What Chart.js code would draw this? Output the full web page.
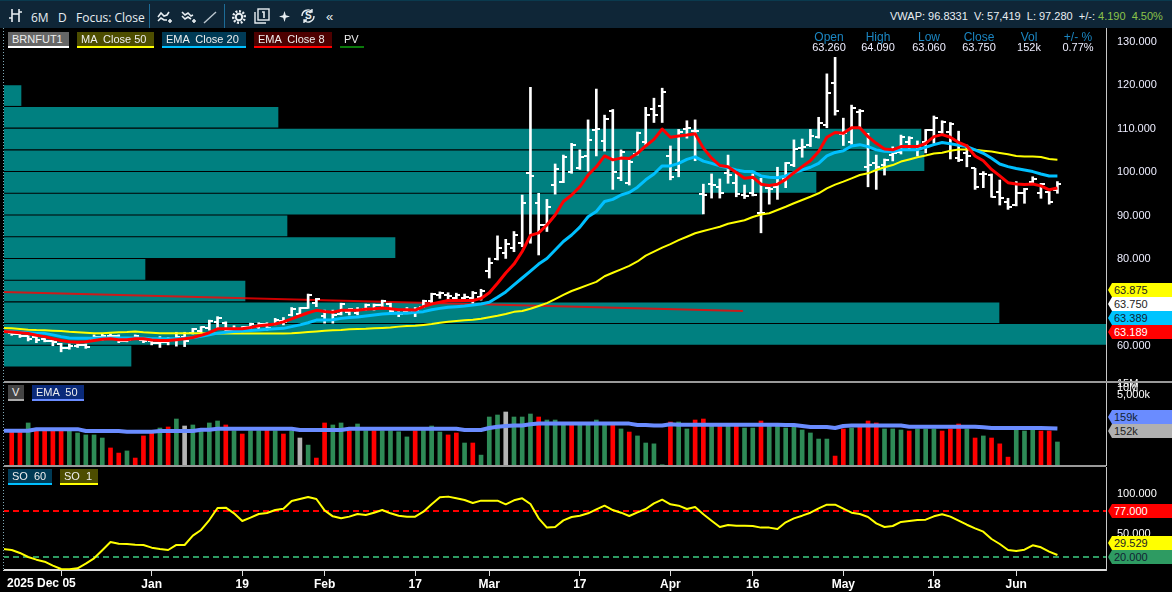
<!DOCTYPE html>
<html>
<head>
<meta charset="utf-8">
<title>BRNFUT1</title>
<script src="https://cdn.jsdelivr.net/npm/chart.js@4"></script>
<style>
html, body { margin: 0; background: #000; overflow: hidden; }
#page { position: relative; width: 1172px; height: 592px; background: #000; overflow: hidden; font-family: "Liberation Sans", Arial, sans-serif; color: #eef; }
canvas { position: absolute; display: block; }
#bar { position: absolute; left: 0; top: 0; width: 1172px; height: 28px; background: #0f2637; border-top: 1px solid #0a3a4e; box-sizing: border-box; font-size: 11px; color: #e8eef2; }
#bar span, #bar svg { position: absolute; }
.left { font-family: "Open Sans", sans-serif; font-size: 12px; top: 8px; }
.sep { position: absolute; top: 3px; width: 1px; height: 24px; background: #1d6c97; }
.tag { position: absolute; height: 14px; line-height: 15px; font-size: 11px; padding-left: 4px; color: #eee; white-space: pre; }
.stat { position: absolute; width: 60px; text-align: center; font-size: 11px; line-height: 10px; }
.stat i { font-style: normal; font-size: 12px; color: #1b86c2; display: block; }
.price { position: absolute; left: 1108px; width: 64px; height: 14px; line-height: 14px; font-size: 11px; padding-left: 6px; box-sizing: border-box; clip-path: polygon(4px 0, 100% 0, 100% 100%, 4px 100%, 0 50%); }
.rule { position: absolute; background: #9a9a9a; }
</style>
</head>
<body>
<div id="page">
  <canvas id="priceChart" width="1169" height="353" style="left:3px;top:28px"></canvas>
  <canvas id="volumeChart" width="1169" height="94" style="left:3px;top:372px"></canvas>
  <canvas id="soChart" width="1169" height="125" style="left:3px;top:467px"></canvas>

  <div class="rule" style="left:3px;top:381px;width:1169px;height:2px"></div>
  <div class="rule" style="left:3px;top:465px;width:1103px;height:2px"></div>
  <div style="position:absolute;left:3px;top:28px;width:1px;height:542px;background:repeating-linear-gradient(#7fa9b5 0 1px,#000 1px 3px)"></div>

  <div id="bar">
    <svg style="left:8px;top:7px" width="15" height="15" viewBox="0 0 15 15" fill="none" stroke="#e8eef2" stroke-width="1.6"><path d="M4 1v13M1 10h3M11 1v13M11 4h3M4 6h7"/></svg>
    <span class="left" style="left:31px">6M</span>
    <span class="left" style="left:58px">D</span>
    <span class="left" style="left:76px">Focus: Close</span>
    <div class="sep" style="left:149px"></div>
    <svg style="left:157px;top:9px" width="16" height="14" viewBox="0 0 16 14" fill="none" stroke="#e8eef2" stroke-width="1.6"><path d="M1 7l3-4 3 3 3-1 2-3M1 11l3-3 3 2 3 0M11 11h4M13 9v4"/></svg>
    <svg style="left:181px;top:9px" width="16" height="14" viewBox="0 0 16 14" fill="none" stroke="#e8eef2" stroke-width="1.6"><path d="M1 2l3 3 3-2 3 3 2-1M1 6l3 3 3-2 3 2M11 11h4M13 9v4"/></svg>
    <svg style="left:203px;top:9px" width="14" height="14" viewBox="0 0 14 14" fill="none" stroke="#bcc8d0" stroke-width="1.4"><path d="M1 13L13 2"/></svg>
    <div class="sep" style="left:224px"></div>
    <svg style="left:232px;top:9px" width="14" height="14" viewBox="0 0 14 14" fill="none" stroke="#e8eef2" stroke-width="2"><circle cx="7" cy="7" r="3.2"/><path stroke-dasharray="2 1.6" stroke-width="2.4" d="M7 1.2a5.8 5.8 0 1 1-.01 0"/></svg>
    <svg style="left:254px;top:7px" width="16" height="16" viewBox="0 0 16 16" fill="none" stroke="#e8eef2" stroke-width="1.4"><rect x="4" y="1" width="11" height="11"/><path d="M1 4v11h11"/><path d="M8 4h2v6" stroke-width="1.6"/></svg>
    <svg style="left:279px;top:10px" width="11" height="11" viewBox="0 0 11 11" fill="#e8eef2"><path d="M5.5 0l1.3 4.2L11 5.5 6.8 6.8 5.5 11 4.2 6.8 0 5.5l4.2-1.3z"/></svg>
    <svg style="left:300px;top:7px" width="16" height="16" viewBox="0 0 16 16" fill="none" stroke="#e8eef2" stroke-width="1.4"><path d="M2 8a6 6 0 0 1 10-4.5M14 8a6 6 0 0 1-10 4.5M12 1v3h-3M4 15v-3h3"/></svg>
    <span style="left:305px;top:9px;font-size:10px;font-weight:bold">S</span>
    <span style="left:326px;top:8px;font-size:13px">«</span>
    <span style="left:890px;top:9px;font-size:11px;white-space:pre">VWAP: 96.8331  V: 57,419  L: 97.280  +/-: <b style="font-weight:normal;color:#8bc34a">4.190  4.50%</b></span>
  </div>

  <div class="tag" style="left:8px;top:32px;width:57px;background:#666;border-bottom:2px solid #fff">BRNFUT1</div>
  <div class="tag" style="left:77px;top:32px;width:73px;background:#4d4d00;border-bottom:2px solid #ff0">MA  Close 50</div>
  <div class="tag" style="left:162px;top:32px;width:80px;background:#003a55;border-bottom:2px solid #00bfff">EMA  Close 20</div>
  <div class="tag" style="left:254px;top:32px;width:74px;background:#4d0000;border-bottom:2px solid #f00">EMA  Close 8</div>
  <div class="tag" style="left:340px;top:32px;width:20px;border-bottom:2px solid #0a7a0a">PV</div>

  <div class="stat" style="left:799px;top:32px"><i>Open</i>63.260</div>
  <div class="stat" style="left:848px;top:32px"><i>High</i>64.090</div>
  <div class="stat" style="left:899px;top:32px"><i>Low</i>63.060</div>
  <div class="stat" style="left:949px;top:32px"><i>Close</i>63.750</div>
  <div class="stat" style="left:999px;top:32px"><i>Vol</i>152k</div>
  <div class="stat" style="left:1048px;top:32px"><i>+/- %</i>0.77%</div>

  <div class="tag" style="left:8px;top:385px;width:12px;background:#444;border-bottom:2px solid #aaa">V</div>
  <div class="tag" style="left:32px;top:385px;width:48px;background:#0a2a7a;border-bottom:2px solid #6a8cff">EMA  50</div>
  <div class="tag" style="left:8px;top:469px;width:40px;background:#003a55;border-bottom:2px solid #00bfff">SO  60</div>
  <div class="tag" style="left:60px;top:469px;width:34px;background:#4d4d00;border-bottom:2px solid #ff0">SO  1</div>

  <div class="price" style="top:283px;background:#ff0;color:#222">63.875</div>
  <div class="price" style="top:297px;background:#fff;color:#222">63.750</div>
  <div class="price" style="top:311px;background:#00c4ff;color:#123">63.389</div>
  <div class="price" style="top:325px;background:#f00;color:#fff">63.189</div>
  <div class="price" style="top:410px;background:#6a8cff;color:#123">159k</div>
  <div class="price" style="top:424px;background:#b0b0b0;color:#222">152k</div>
  <div class="price" style="top:504px;background:#f00;color:#fff">77.000</div>
  <div class="price" style="top:536px;background:#ff0;color:#222">29.529</div>
  <div class="price" style="top:550px;background:#2e9b62;color:#123">20.000</div>

  <div id="firstDate" style="position:absolute;left:7px;top:576px;font-size:12px;font-weight:bold;color:#fff"></div>
</div>

<script>
const opens = [62.5,62.2,61.8,61.5,61.1,60.8,60.1,59,59.5,59.7,
  60.9,61.5,61.8,61.8,60.7,61.3,61,60.6,60.2,60.4,
  60.9,61.5,62.5,63,63.7,65,64.8,63.3,63.2,63.8,
  64,64.6,64.6,65.4,66.6,67,68.4,69.5,66.5,65.5,
  67,67.4,67.2,68,68.1,69,69.2,67.2,67.5,67.3,
  68.6,69.9,71.3,71.2,70.5,70.6,70.5,70.8,76.8,79.6,
  81,82,83.2,99.3,92.4,87.4,96.6,97.4,99.7,100.6,
  103.3,109.3,106.8,113.7,98.15,97,103.75,106.4,114,114.9,
  103.3,100.07,109.4,109.1,94.5,96.8,96.2,99.3,97,94.3,
  94.7,90.1,95.85,96.2,98,101.2,
  105.06,105.8,107.6,110.4,120,108.4,106.6,113.5,100.84,101.6,
  101.2,103.5,104.3,106.6,105.45,106.4,109.3,108.9,108.9,102.75,
  104.05,100.45,99.07,98.9,95.1,92.8,92,94.7,97.4,94.85,95.1,95.5];
const highs = [62.6,62.3,61.9,61.7,61.3,61.3,60.15,60,60,60,
  62.1,62.3,62.3,62.1,61.3,62.1,61.3,61.1,61.7,61.5,
  62.7,62.7,63.6,64,65.5,66.3,65.1,64.2,64,64.8,
  64.9,64.9,65.9,66.1,68.4,68.4,71.5,70.5,67.8,67.8,
  69.4,68.2,68.4,69.2,69.2,70.1,69.4,67.45,68.4,68.4,
  70.1,71.7,72,71.8,71.7,71.5,72.1,72.6,79.8,84.9,
  84.1,85.9,94.3,119.1,94.7,93.3,101.45,103.5,106.2,104.7,
  111.6,118.7,112.7,114,104.7,102.4,108.8,114.5,116.6,118.9,
  105.6,109.4,111.4,111.6,96.8,99.15,98,103.5,99.3,96.6,
  99.15,98.15,96.2,100.7,101.8,107,
  107.2,109.4,112.2,122.2,126,112,115,114,108.5,103.5,
  102.6,105.4,108.1,107.75,106.75,109.4,112.5,111.4,111,109,
  105.8,100.45,99.7,99.15,97.75,93.55,97.4,95.85,98.5,97,95.1,97.4];
const lows = [62,61.5,60.7,60.3,60.5,59.6,58.2,58.8,59.2,59,
  60.8,60.9,61.3,60.3,60.5,61.1,60.3,59.8,59.2,59.8,
  59.5,59.4,62.3,62.5,63.2,63.4,62.8,62.8,62.8,63.4,
  63.4,63.2,64.4,64.4,66.45,66.45,68.2,68.6,64.8,64.8,
  66.7,66.7,66.7,67.8,67.8,68.6,67.1,66.3,67.1,66.3,
  68.4,69.5,70.5,70.1,70.1,70.1,69.4,70.1,75.2,79.35,
  79.7,81.25,82.4,83.2,80.5,85.9,94.5,97.15,99.3,100.2,
  99.8,103.3,104.4,95.6,97.6,96.6,103.5,105.8,111,111,
  97.8,98.5,107.4,102.2,89.95,93.6,93.6,97,93.9,93.5,
  94.1,85.6,92.2,93.3,96,100.84,
  103,105.45,107.4,109.8,112.7,105.7,106,109.7,96.2,95.6,
  98.9,102.15,103.75,104.7,103.3,104,106.2,108.5,102.6,102,
  100.8,95.6,96,93.8,92,91,91.8,92.4,96.85,93.55,92.2,94.7];
const closes = [62.2,61.8,61.2,60.9,60.7,60.4,59,59.6,59.7,59.2,
  61.6,61.9,61.9,60.6,60.9,61.9,60.6,60.2,60.5,61.1,
  61.7,60.7,63.4,63.8,65.2,66,63.2,63,63.8,64.6,
  64.7,63.6,65.6,65,68.1,68.2,71.2,70.3,65.5,66.6,
  69.1,68,67.9,68.9,68.9,69.8,67.5,66.9,67.9,67.9,
  69.9,71.5,71.7,71,71.2,70.8,71.7,72.3,78.7,82,
  83,85.2,92.5,98.7,87.4,91.6,100.2,103,105.8,103,
  107,109.4,111.7,99.7,104.3,102,108.5,112.7,112.7,118.1,
  98.5,108.7,109.7,109,94.4,96.6,94.85,98.9,94.5,94.1,
  94.4,90.25,95.6,98.5,101.75,104.8,
  105.45,107.9,111,117.9,113.65,108.5,114.3,113.7,101.2,100.84,
  102.4,103.9,107.75,107.4,105.45,109.3,112,111.2,110.7,102.4,
  103.3,96.1,99.07,93.9,93.55,91.6,94.7,95.6,98,96.8,92.6,96.85];

const ema8 = [62.77,62.6,62.4,62,61.7,61.2,60.8,60.5,60.4,60.5,
  60.8,61.1,61.2,61,61,61.2,61.2,60.9,60.8,60.8,
  61,61.2,61.5,62,62.6,63.5,63.5,63.5,63.5,63.8,
  64.2,64.4,64.6,65.1,65.8,66.5,67.2,67.75,67.5,67.3,
  67.75,67.75,67.75,68,68.1,68.3,68.1,67.9,67.9,67.8,
  68.6,69.2,69.6,70,70,70,70,70.5,71.8,74,
  76.35,78.4,81.3,85,85.6,87.4,89.7,92.8,94.3,96.2,
  98.9,100.8,103.3,102.4,102.8,102.7,103.9,105.6,107.1,109.5,
  107.6,107.9,108.1,108.4,105.1,102.8,101.1,100.8,99.5,98.15,
  98.4,96.8,96.5,96.8,97.9,99.45,
  100.84,102.2,104.3,107.6,108.7,108.5,109.8,109.8,107.75,106.2,
  104.9,104.7,105.45,105.45,105.45,106.2,107.75,108.2,107.6,106.4,
  105.6,103.3,102.2,100.2,98.7,97.15,96.85,96.7,96.85,96.4,95.5,95.9];
const ema20 = [62.8,62.7,62.6,62.5,62.45,62.1,61.7,61.4,61.3,61.3,
  61.3,61.4,61.4,61.4,61.4,61.4,61.3,61.2,61.2,61.2,
  61.2,61.3,61.5,61.8,62.1,62.5,62.7,62.85,63,63.1,
  63.2,63.4,63.5,63.6,64,64.4,64.9,65.5,65.5,65.6,
  65.9,66.1,66.2,66.45,66.7,66.9,67,67.1,67.1,67.3,
  67.45,67.9,68.2,68.45,68.6,68.75,69,69.2,69.6,70.75,
  72,73.6,75.2,76.8,78.4,79.7,81.65,83.6,85.1,86.9,
  89.3,90.5,92.8,93.3,94.3,94.9,96.1,97.8,99.15,101,
  101,101.6,102.5,103.1,102.1,101.6,101,100.6,100.1,99.7,
  99.7,98.7,98.4,98.3,98.7,99.45,
  100.07,100.7,101.6,103.3,104.1,104.5,105.6,105.9,105.45,104.7,
  104.4,104.3,104.75,104.75,104.75,105.3,105.9,106.4,106.1,105.75,
  105.45,104.7,103.9,102.75,101.45,100.84,100.4,100.07,99.7,99.15,98.7,98.7];
const ma50 = [63.6,63.45,63.3,63.2,63.15,63.07,63,62.8,62.7,62.6,
  62.5,62.5,62.6,62.7,62.75,62.85,62.7,62.6,62.5,62.45,
  62.45,62.45,62.45,62.45,62.4,62.4,62.4,62.4,62.4,62.4,
  62.4,62.4,62.4,62.4,62.45,62.6,62.75,62.9,63.07,63.15,
  63.2,63.4,63.45,63.5,63.6,63.7,63.8,64,64.15,64.2,
  64.4,64.6,64.9,65.1,65.3,65.45,65.6,65.8,66.15,66.5,
  66.9,67.4,67.6,68.1,68.75,69.4,70.35,71.3,72.2,72.9,
  73.6,74.3,75.6,76.4,77.2,78,79,80.35,81.25,82.2,
  83,83.9,84.7,85.5,86,86.5,87,87.7,88.1,88.5,
  89.25,89.8,90.1,90.85,91.6,92.4,
  93.16,93.9,94.7,95.85,96.7,97.4,98.15,98.9,99.3,100.07,
  100.7,101.2,102,102.5,103,103.4,103.85,104.05,104.5,104.8,
  104.8,104.7,104.5,104.3,104,103.7,103.3,103.2,103.15,103.05,102.6,102.45];

const pvPrices = [117.2,112.2,107.2,102.2,97.2,92.2,87.2,82.2,77.2,72.2,67.2,62.2,57.2];
const pvVolumes = [18,275,918,921,813,700,284,392,142,242,996,1103,128];
const trendIndex = [-1.06,88.8];
const trendValues = [71.97,67.6];

const volumes = [127,114,275,136,136,136,136,127,101,83,
  83,61,22.5,13.5,16.7,8.2,75,104,166,184,
  409,203,225,127,275,335,225,127,91,127,
  127,136,127,91,127,61,30,8.2,275,225,
  275,127,248,127,127,127,127,114,68,127,
  136,203,111,83,101,37,37,11,500,611,
  825,500,500,675,500,370,370,275,275,275,
  275,370,225,275,151,111,75,37,34,4.2,
  303,303,151,370,409,225,225,225,225,166,
  166,335,225,225,166,184,136,101,55,55,
  10,151,166,190,335,275,151,151,136,123,
  151,151,151,123,151,248,151,61,75,61,
  34,9,136,123,136,123,123,41];
const volumeKinds = ['r','r','g','r','r','r','r','g','g','g',
  'g','g','r','r','g','r','r','r','g','r',
  'g','s','g','g','g','g','r','g','r','g',
  'g','r','g','r','g','s','g','r','r','g',
  'g','r','g','g','r','g','g','g','g','r',
  'g','g','g','r','r','g','r','g','g','g',
  's','g','g','g','r','g','g','g','r','g',
  'g','g','g','r','g','r','g','g','g','g',
  'r','g','g','r','r','g','r','g','r','g',
  'g','r','g','g','g','g','g','g','g','g',
  'r','r','g','r','r','r','g','g','g','r',
  'g','g','g','r','r','r','g','r','g','r',
  'r','r','g','g','g','r','r','g'];
const volumeEma = [127,127,127,148,148,148,148,148,148,123,
  123,123,123,123,115,115,115,115,123,123,
  123,123,123,140,140,155,155,155,155,155,
  155,155,155,155,155,136,136,136,136,136,
  136,155,155,155,155,155,155,155,155,155,
  155,155,155,155,155,136,136,136,166,190,
  203,214,214,240,258,258,258,258,258,258,
  258,258,258,258,258,258,225,225,212,212,
  240,232,232,232,232,232,232,232,232,232,
  232,232,232,232,225,225,203,184,184,184,
  166,203,212,212,212,212,212,212,212,190,
  190,190,190,190,190,190,190,190,178,166,
  166,166,166,166,166,166,164,159];

const so1 = [28.7,25,20,16.7,14.2,9.3,5.1,4.7,6,11.7,
  18.4,28.3,38.6,36.5,36.1,35.3,34.9,31.6,29.9,28.7,
  34.9,34.9,46.4,53.5,65.8,80.7,81.1,74.1,64.6,68.7,
  73.3,74.5,78.2,79.9,89.4,91.9,94.3,91.9,77.8,70.4,
  67.9,70,73.3,72,74.9,78.2,74.1,71.2,70,70,
  76.2,85.3,93.9,94.8,92.7,90.6,86.9,89.8,89.8,89.8,
  85.3,90.2,92.7,85.7,67.9,56.4,57.2,65.4,69.6,71.2,
  74.1,79,83.6,78.2,74.9,70.8,75.3,79.5,86.5,91,
  85.3,83.6,79.5,82,72.9,65,57.2,59.7,58.8,58.8,
  58.4,56.4,56.4,54.7,63,67.9,71.2,74.9,80.3,84.8,
  84.8,79.9,74.9,73.3,69.6,61.7,57.2,58.4,63.4,64.6,
  65.8,66.3,70.4,72.9,70,65,60,55.5,51.4,42.3,
  36.1,28.7,27.4,29,34.5,32,26.6,22.5];
const soUpper = 77;
const soLower = 20;

// where each line comes in at the left edge, before the first whole bar
const leadEma8 = 62.85;
const leadEma20 = 62.85;
const leadMa50 = 63.7;
const leadVolumeEma = 127;
const leadSo1 = 29.9;

const tickPositions = [6,17,28,38,49,58,69,80,90,101,112,122];
const tickLabels = ['2025 Dec 05','Jan','19','Feb','17','Mar','17','Apr','16','May','18','Jun'];
const priceTicks = [130,120,110,100,90,80,70,60];
const volumeTicks = [15000,10000,5000];
const volumeTickLabels = ['15M','10M','5,000k'];
const soTicks = [100,50];

const xMin = -1.057, xMax = 132.9;
const labelFont = { family: '"Liberation Sans", Arial, sans-serif', size: 11 };
const axisColor = '#c8c8c8';

document.getElementById('firstDate').textContent = tickLabels[0];

function points(values, lead) {
    const pts = values.map((y, x) => ({ x, y }));
    if (lead !== undefined) pts.unshift({ x: xMin, y: lead });
    return pts;
}

// little tick images for the open (left) and close (right) of each bar
function tickImage(side) {
    const c = document.createElement('canvas');
    c.width = 8;
    c.height = 2;
    const g = c.getContext('2d');
    g.fillStyle = '#fff';
    g.fillRect(side === 'left' ? 0 : 4, 0, 4, 2);
    return c;
}

function lineSet(label, values, lead, color, width, order) {
    return { type: 'line', label, data: points(values, lead), borderColor: color, borderWidth: width,
        pointRadius: 0, tension: 0, borderJoinStyle: 'round', order, yAxisID: 'y', xAxisID: 'x' };
}

function tickSet(label, values, side, order) {
    return { type: 'line', label, data: points(values), showLine: false, pointStyle: tickImage(side),
        pointRadius: 4, order, yAxisID: 'y', xAxisID: 'x' };
}

// drop the room chart.js keeps for half a tick label, the plot has to fill the canvas
function noPadding(scale) {
    scale.paddingTop = 0;
    scale.paddingBottom = 0;
    scale.paddingLeft = 0;
    scale.paddingRight = 0;
}

function xAxis(showLabels) {
    return {
        type: 'linear', min: xMin, max: xMax, offset: false,
        display: showLabels,
        afterBuildTicks: scale => { scale.ticks = tickPositions.map(value => ({ value })); },
        afterFit: scale => {
            noPadding(scale);
            if (showLabels) scale.height = 22;
        },
        grid: { display: false, drawOnChartArea: false },
        border: { color: '#ddd', width: 2 },
        ticks: {
            display: true, autoSkip: false, maxRotation: 0, color: '#fff', padding: 1,
            font: { family: labelFont.family, size: 12, weight: 'bold' },
            callback: value => {
                const i = tickPositions.indexOf(value);
                return i > 0 ? tickLabels[i] : '';
            }
        }
    };
}

function yAxis(opts) {
    return Object.assign({
        position: 'right',
        afterFit: scale => {
            noPadding(scale);
            scale.width = 66;
        },
        grid: { display: false },
        border: { color: axisColor, width: 1 },
    }, opts);
}

const baseOptions = { responsive: false, animation: false, events: [],
    plugins: { legend: { display: false }, tooltip: { enabled: false } } };

new Chart(document.getElementById('priceChart'), {
    data: {
        datasets: [
            lineSet('EMA Close 8', ema8, leadEma8, '#ff0000', 3, 1),
            lineSet('EMA Close 20', ema20, leadEma20, '#00c0ff', 3, 2),
            lineSet('MA Close 50', ma50, leadMa50, '#ffff00', 2, 3),
            tickSet('Close', closes, 'right', 4),
            tickSet('Open', opens, 'left', 5),
            { type: 'bar', label: 'BRNFUT1', data: lows.map((l, i) => ({ x: i, y: [l, highs[i]] })),
              backgroundColor: '#fff', barThickness: 2, grouped: false, order: 6, xAxisID: 'x', yAxisID: 'y' },
            { type: 'line', label: 'Trend', data: trendIndex.map((x, i) => ({ x, y: trendValues[i] })),
              borderColor: 'rgba(255,0,0,0.8)', borderWidth: 2, pointRadius: 0, order: 7, xAxisID: 'x', yAxisID: 'y' },
            { type: 'bar', label: 'PV', indexAxis: 'y', data: pvPrices.map((y, i) => ({ x: pvVolumes[i], y })),
              backgroundColor: '#008080', barThickness: 20, grouped: false, order: 8, xAxisID: 'xPv', yAxisID: 'y' }
        ]
    },
    options: Object.assign({}, baseOptions, {
        layout: { autoPadding: false },
        scales: {
            x: xAxis(false),
            xPv: { type: 'linear', min: 0, max: 1103, display: false, offset: false },
            y: yAxis({
                type: 'linear', min: 51.48, max: 132.76, offset: false, beginAtZero: false,
                afterBuildTicks: scale => { scale.ticks = priceTicks.map(value => ({ value })); },
                ticks: { color: '#eef', font: labelFont, padding: 3, labelOffset: 2, autoSkip: false, callback: v => v.toFixed(3) }
            })
        }
    })
});

new Chart(document.getElementById('volumeChart'), {
    data: {
        datasets: [
            lineSet('EMA 50', volumeEma, leadVolumeEma, '#6a8cff', 4, 1),
            { type: 'bar', label: 'V', data: points(volumes),
              backgroundColor: volumeKinds.map(k => k === 'r' ? '#ff0000' : k === 'g' ? '#2e8b57' : '#b4b4b4'),
              barThickness: 4, order: 2, xAxisID: 'x', yAxisID: 'y' }
        ]
    },
    options: Object.assign({}, baseOptions, {
        layout: { autoPadding: false, padding: { top: 10 } },
        scales: {
            x: xAxis(false),
            y: yAxis({
                type: 'logarithmic', min: 3.7, max: 16640, offset: false,
                afterBuildTicks: scale => { scale.ticks = volumeTicks.map(value => ({ value })); },
                ticks: { color: '#fff', font: labelFont, padding: 3, labelOffset: 1, autoSkip: false,
                    callback: v => volumeTickLabels[volumeTicks.indexOf(v)] }
            })
        }
    })
});

new Chart(document.getElementById('soChart'), {
    data: {
        datasets: [
            lineSet('SO 1', so1, leadSo1, '#ffff00', 2, 1),
            { type: 'line', label: 'Upper', data: [{ x: xMin, y: soUpper }, { x: xMax, y: soUpper }],
              borderColor: '#ff0000', borderWidth: 2, borderDash: [6, 4], pointRadius: 0, order: 2 },
            { type: 'line', label: 'Lower', data: [{ x: xMin, y: soLower }, { x: xMax, y: soLower }],
              borderColor: '#2e9b62', borderWidth: 2, borderDash: [6, 4], pointRadius: 0, order: 3 }
        ]
    },
    options: Object.assign({}, baseOptions, {
        layout: { autoPadding: false },
        scales: {
            x: Object.assign(xAxis(true), { grid: { display: true, drawOnChartArea: false, tickLength: 6, tickColor: '#ddd' } }),
            y: yAxis({
                type: 'linear', min: 3.9, max: 131.5, offset: false,
                afterBuildTicks: scale => { scale.ticks = soTicks.map(value => ({ value })); },
                ticks: { color: '#fff', font: labelFont, padding: 3, labelOffset: 1.5, autoSkip: false, callback: v => v.toFixed(3) }
            })
        }
    })
});
</script>
</body>
</html>
